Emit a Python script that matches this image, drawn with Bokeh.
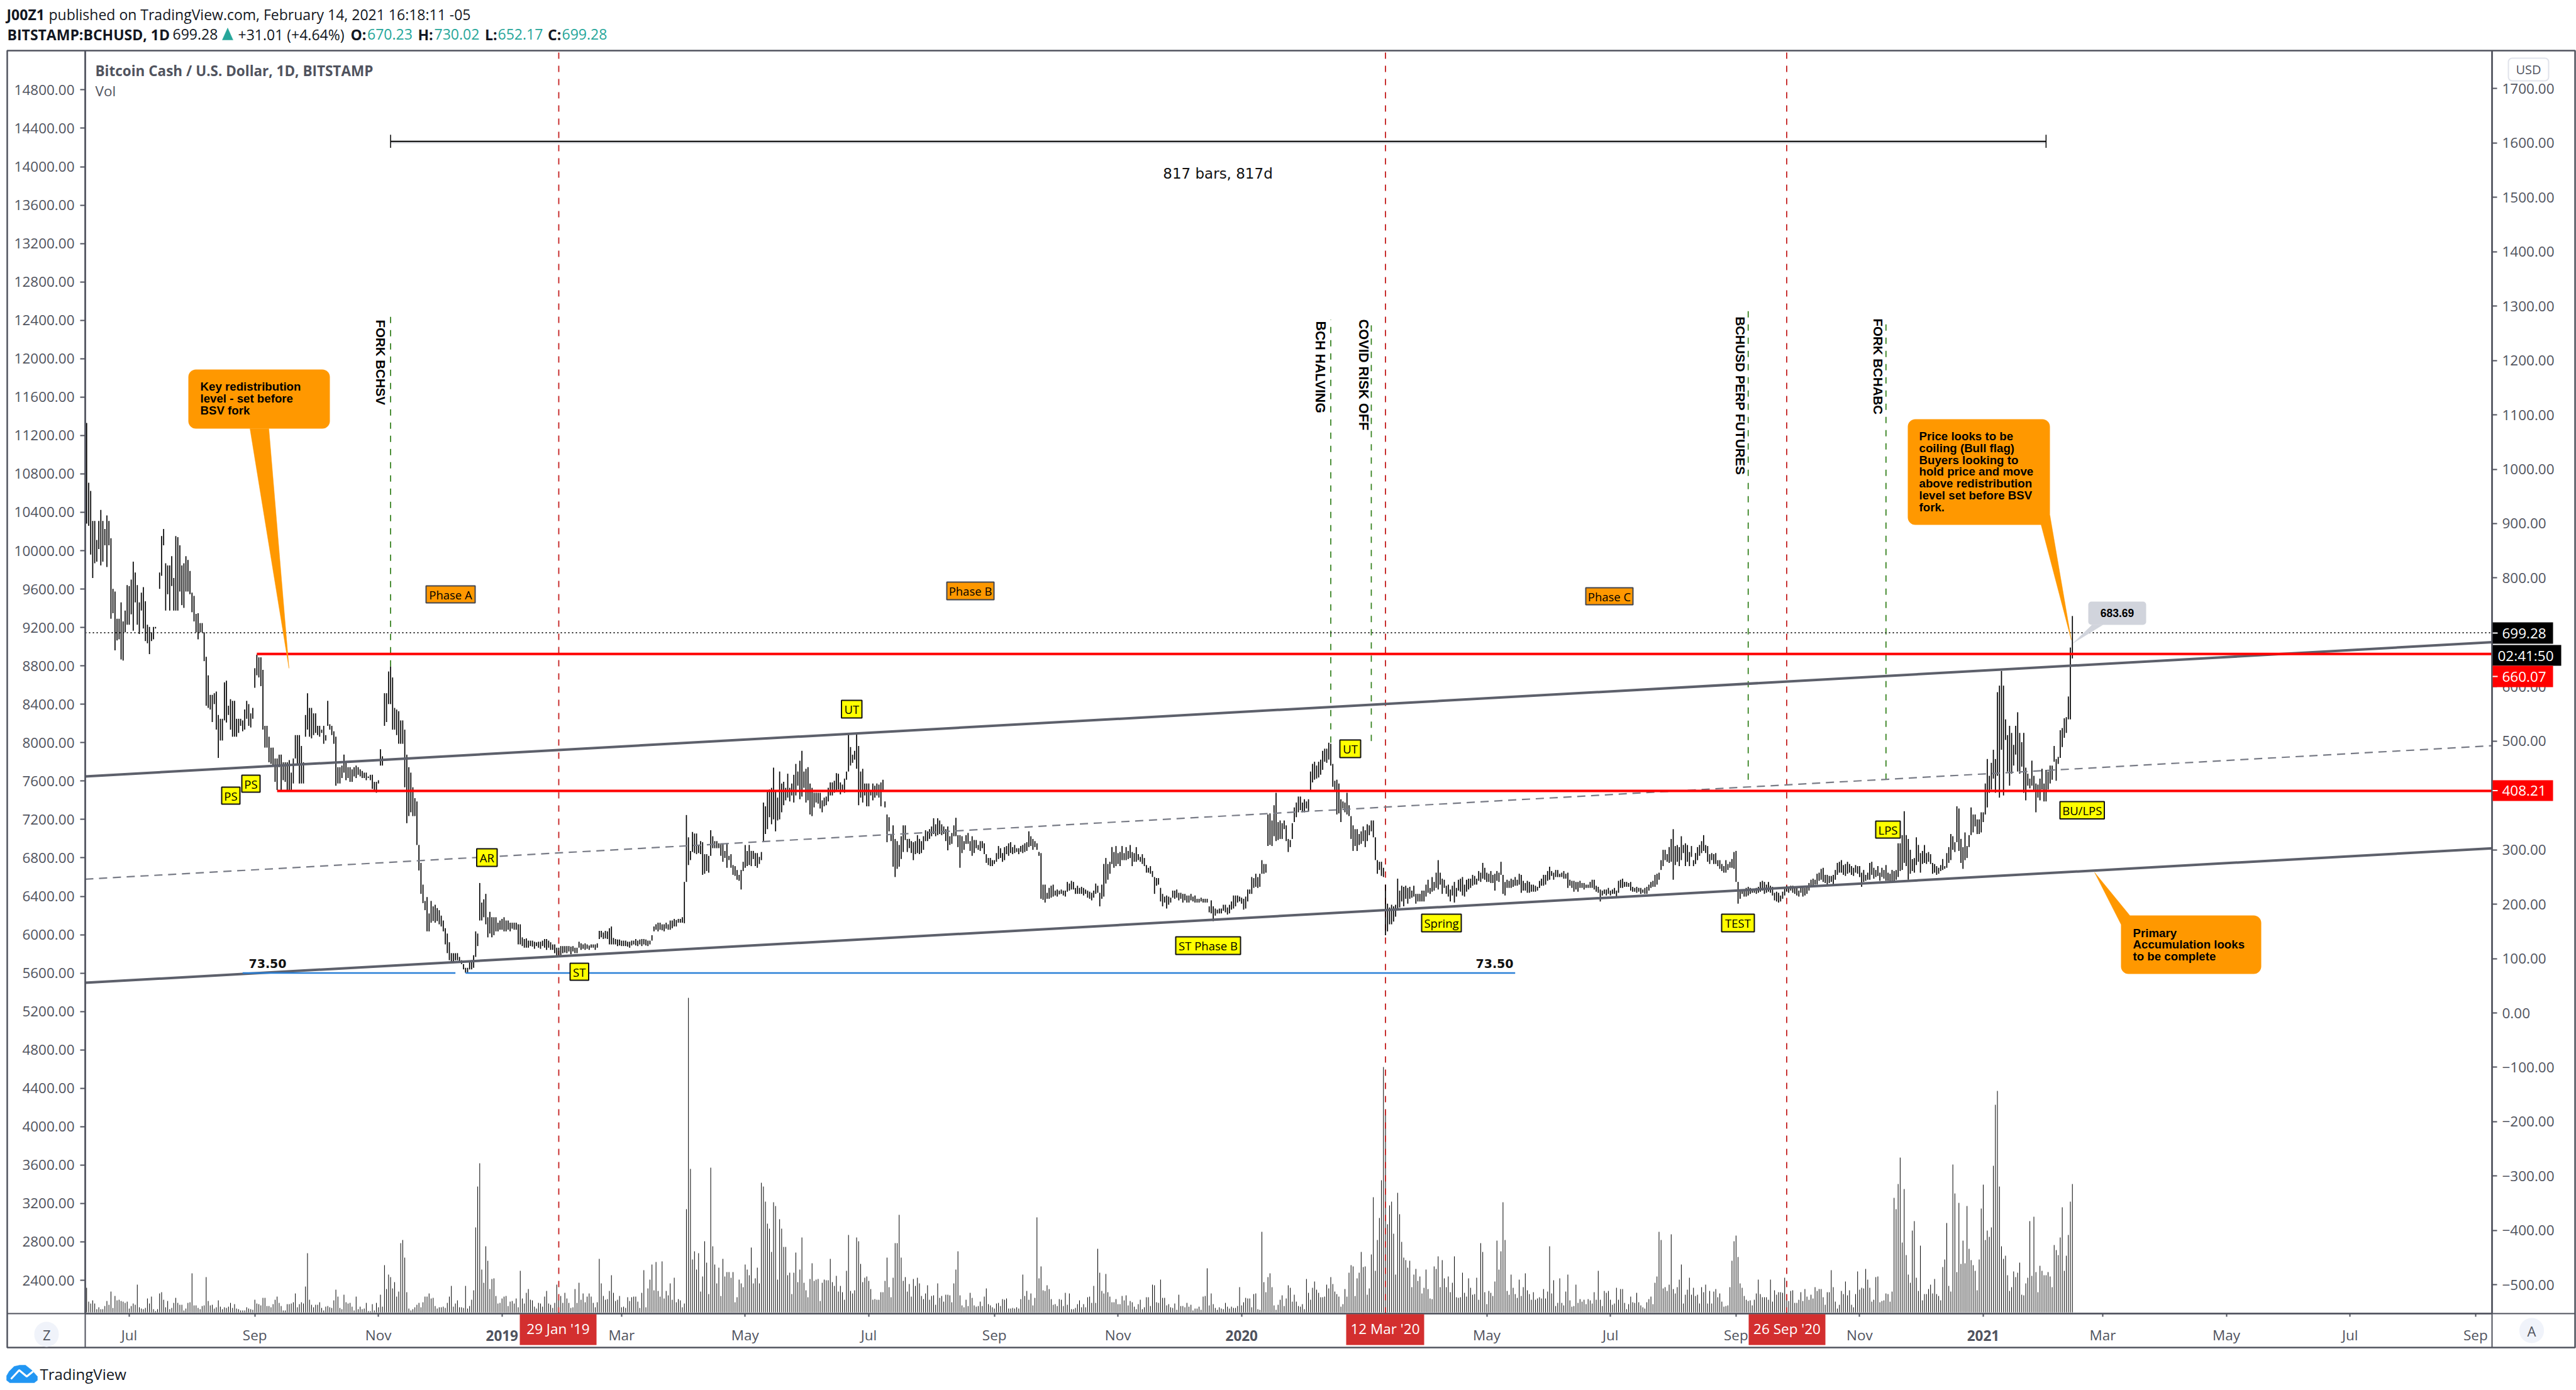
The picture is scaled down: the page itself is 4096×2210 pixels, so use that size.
import pandas as pd
from bokeh.embed import file_html
from bokeh.resources import INLINE
from bokeh.plotting import figure
from bokeh.models import (Range1d, LinearAxis, FixedTicker, Label, BoxAnnotation)

# ---------- price (USD) and volume, month by month ----------
high_2018_06 = [1085,975,960,905,905,870,905,925,905,890,915,905,873,780,775,725,725,755,720,740,787]
low_2018_06 = [900,896,843,800,827,830,853,823,830,860,820,860,725,735,667,685,687,650,648,700,714]
vol_2018_06 = [39,17,14,19,14,5,8,5,5,10,18,12,33,7,26,19,20,18,17,15,17]
high_2018_07 = [785,797,830,810,787,755,773,783,757,714,710,700,710,710,733,810,877,890,827,823,823,840,800,877,875,860,823,827,840,833,813]
low_2018_07 = [714,733,703,755,714,697,740,707,684,680,660,684,687,707,733,780,804,860,740,770,740,785,740,740,740,775,750,745,775,775,770]
vol_2018_07 = [6,10,14,12,44,8,6,5,7,22,14,25,5,2,5,30,32,20,8,18,5,7,15,23,15,12,12,3,6,15,16]
high_2018_08 = [773,767,734,735,717,717,700,655,621,585,585,588,591,548,541,541,608,611,565,577,574,574,541,541,541,538,558,574,568,551,561]
low_2018_08 = [737,720,700,687,700,700,647,565,561,558,535,568,521,469,501,501,538,534,548,521,508,508,508,515,528,518,521,541,528,525,541]
vol_2018_08 = [62,11,11,7,5,10,11,56,18,11,12,6,8,19,9,5,8,7,9,15,7,13,6,5,3,3,3,8,6,5,4]
high_2018_09 = [634,659,654,654,631,528,528,508,488,488,468,468,475,475,461,461,461,465,442,468,511,511,511,491,461,548,588,561,561,551]
low_2018_09 = [598,621,617,601,521,488,488,461,458,455,425,410,452,410,428,425,410,410,410,422,468,455,422,422,422,508,521,508,505,511]
vol_2018_09 = [20,14,13,11,23,23,10,10,8,13,20,25,15,10,3,3,13,13,14,16,30,8,13,16,14,41,94,20,12,8]
high_2018_10 = [551,528,528,521,528,511,574,531,528,518,508,452,452,455,475,461,452,452,448,452,455,452,448,445,442,442,435,438,438,425,425]
low_2018_10 = [515,511,508,515,495,501,528,521,511,495,418,422,422,432,442,428,432,425,425,435,432,438,435,432,432,428,432,428,412,409,405]
vol_2018_10 = [12,12,16,7,3,9,10,8,7,19,36,25,7,5,28,16,14,15,9,3,25,5,9,5,6,15,2,2,13,3,15]
high_2018_11 = [428,485,472,588,588,628,637,617,561,558,555,538,538,521,475,452,442,415,395,389,309,276,236,206,213,183,206,196,199,193]
low_2018_11 = [422,455,455,528,535,568,568,521,521,511,495,495,495,415,349,362,369,362,362,309,262,219,202,189,150,150,166,169,166,169]
vol_2018_11 = [8,28,9,75,37,60,56,38,48,25,33,110,115,87,32,6,3,5,8,12,15,8,16,25,25,30,22,23,10,6]
high_2018_12 = [189,179,170,156,146,130,110,110,110,110,103,97,90,83,83,93,97,106,150,146,239,203,209,219,176,186,176,176,176,166,170]
low_2018_12 = [163,159,150,126,110,97,93,93,97,97,93,90,80,74,74,80,80,83,103,123,170,170,176,163,139,146,139,143,150,150,153]
vol_2018_12 = [8,8,9,7,15,25,42,9,14,19,8,8,7,42,6,10,20,35,135,200,237,68,47,105,82,37,53,54,26,14,15]
high_2019_01 = [173,176,170,170,166,166,166,166,163,163,139,136,137,133,133,133,131,130,131,131,133,136,136,133,130,126,126,120,120,123,123]
low_2019_01 = [153,150,150,153,150,155,153,153,126,126,123,120,120,120,123,122,118,123,120,118,123,120,116,120,116,116,110,106,106,106,110]
vol_2019_01 = [22,25,26,10,17,18,14,22,8,66,22,14,31,37,20,19,9,6,15,14,9,25,34,14,12,7,15,44,21,26,15]
high_2019_02 = [123,123,123,122,123,120,120,131,128,126,128,126,124,126,126,126,128,151,151,148,151,150,156,159,138,136,135,135]
low_2019_02 = [111,110,113,108,113,110,110,120,116,118,116,118,116,120,120,116,120,136,139,136,137,136,126,126,126,126,123,124]
vol_2019_02 = [31,22,15,7,8,37,15,47,20,30,16,25,30,25,15,8,16,85,46,26,20,21,34,59,31,18,20,26]
high_2019_03 = [133,133,133,131,131,133,133,136,133,135,136,136,135,133,133,143,159,163,166,166,163,163,166,163,170,170,173,171,173,173,176]
low_2019_03 = [123,123,123,122,120,124,126,124,123,126,123,126,124,123,126,133,150,153,150,153,152,150,155,153,153,156,159,159,166,166,166]
vol_2019_03 = [8,9,7,24,18,24,25,25,17,7,31,67,8,38,52,76,35,80,34,25,81,22,34,27,46,20,55,16,21,19,8]
high_2019_04 = [241,364,323,298,333,330,330,309,316,314,292,292,289,336,325,316,316,312,312,312,298,312,289,292,272,270,263,254,263,278]
low_2019_04 = [165,241,272,281,296,294,292,294,292,254,256,261,258,289,303,303,303,303,289,278,285,267,281,267,254,252,245,243,227,261]
vol_2019_04 = [14,164,500,228,84,97,68,94,33,57,113,79,29,230,105,76,46,71,26,85,57,64,64,55,64,16,24,52,46,40]
high_2019_05 = [309,298,309,298,298,294,294,287,296,387,380,410,411,414,451,409,396,444,422,425,414,440,414,422,438,458,444,464,482,444,449]
low_2019_05 = [267,270,272,270,283,270,267,274,281,314,329,338,360,347,356,334,354,356,369,382,391,396,389,400,387,400,418,393,398,414,387]
vol_2019_05 = [76,68,59,103,46,54,71,46,206,200,176,141,133,96,175,169,52,148,133,104,104,59,63,29,63,95,48,68,119,47,35]
high_2019_06 = [452,422,414,405,405,405,405,391,396,398,414,424,424,427,441,440,424,420,431,444,515,489,475,482,513,491,444,449,422,422]
low_2019_06 = [391,365,362,378,387,385,376,369,380,382,389,400,400,405,409,411,402,409,405,429,444,455,460,466,449,382,396,387,400,380]
vol_2019_06 = [24,53,78,50,52,53,18,47,52,51,51,85,48,42,58,33,42,32,20,66,123,34,30,35,119,113,77,48,55,57]
high_2019_07 = [422,409,422,418,422,420,424,429,389,365,360,329,345,320,316,309,325,345,345,320,320,316,314,316,327,320,316,325,336,334,338]
low_2019_07 = [380,400,391,396,400,396,380,409,378,314,334,316,269,250,265,269,283,296,318,296,303,294,281,292,294,292,294,300,316,316,320]
vol_2019_07 = [50,37,20,21,20,20,32,32,50,87,40,24,55,110,110,155,87,50,56,33,45,25,53,42,55,46,26,21,30,43,20]
high_2019_08 = [343,358,347,358,354,347,343,338,343,325,331,345,359,327,327,325,316,327,331,316,325,318,318,309,316,316,312,292,285,285,281]
low_2019_08 = [325,329,325,327,329,327,329,316,299,309,311,325,325,305,267,294,300,311,311,298,289,294,303,300,298,303,292,276,272,270,270]
vol_2019_08 = [26,27,12,46,23,26,17,28,28,27,16,46,68,97,27,11,8,20,10,31,23,11,9,10,17,10,25,38,13,11,8]
high_2019_09 = [281,294,307,303,294,305,307,312,314,305,309,303,303,307,309,312,314,334,325,320,316,312,296,294,236,236,221,230,234,236]
low_2019_09 = [274,278,283,285,278,281,292,289,294,292,294,296,292,296,294,296,298,305,307,300,305,300,289,210,208,203,210,210,212,214]
vol_2019_09 = [6,14,15,10,21,20,22,6,6,7,6,8,6,21,60,26,34,20,30,11,23,151,54,73,35,34,43,37,21,12]
high_2019_10 = [225,227,225,227,225,225,241,238,243,241,230,234,230,232,230,227,225,223,221,225,238,234,221,236,274,285,274,278,305,296,307]
low_2019_10 = [216,214,218,219,216,214,223,225,227,227,219,219,219,219,216,219,212,210,207,212,219,221,196,210,214,238,245,256,274,267,270]
vol_2019_10 = [13,10,21,20,10,31,12,30,5,5,7,13,19,8,13,8,24,25,15,42,15,101,63,34,30,61,32,25,16,16,21]
high_2019_11 = [294,296,307,294,305,298,309,296,294,305,292,287,292,285,272,267,270,261,250,248,248,230,219,214,216,214,212,225,225,227]
low_2019_11 = [274,270,281,281,281,283,285,270,278,278,281,278,274,270,258,258,256,250,219,234,236,205,196,203,192,199,203,212,210,212]
vol_2019_11 = [13,13,26,19,27,11,18,16,9,5,13,20,5,8,24,24,10,44,43,16,15,52,23,23,11,13,8,7,14,4]
high_2019_12 = [221,221,219,219,216,216,219,214,216,210,210,212,210,210,210,196,207,196,192,190,192,192,199,199,194,199,205,216,216,216,214]
low_2019_12 = [207,210,203,207,203,203,207,205,203,203,203,205,203,203,203,185,183,169,179,183,183,183,188,185,181,183,190,192,196,203,205]
vol_2019_12 = [28,10,10,8,15,9,12,3,6,6,9,4,25,26,70,11,30,13,7,4,8,6,5,15,9,6,9,7,7,10,40]
high_2020_01 = [212,210,214,227,227,250,248,256,250,256,281,274,274,365,367,354,382,405,351,354,349,354,345,320,318,349,378,387,398,398,387]
low_2020_01 = [201,190,192,205,219,219,230,232,230,232,256,256,258,307,309,307,325,316,318,320,320,338,316,296,305,320,351,360,369,373,369]
vol_2020_01 = [11,16,23,22,22,8,29,30,5,4,128,48,32,56,62,40,11,4,12,20,27,10,22,43,39,17,28,17,10,9,13]
high_2020_02 = [393,389,393,444,458,462,455,462,466,482,486,486,497,495,458,427,429,422,393,389,387,405,382,362,345,338,338,329,334]
low_2020_02 = [369,376,371,409,424,429,431,433,438,447,462,460,466,455,416,409,365,367,351,376,369,365,362,320,298,307,298,309,311]
vol_2020_02 = [5,53,31,20,39,49,36,31,24,24,25,44,38,56,45,33,29,25,9,13,37,25,63,75,73,26,54,63,96]
high_2020_03 = [343,336,347,345,354,354,323,281,278,278,267,236,201,194,199,196,199,247,225,234,232,234,230,232,225,234,219,219,219,225,225]
low_2020_03 = [316,305,316,327,334,323,281,256,263,252,250,143,150,163,163,168,177,190,194,205,196,210,201,210,212,214,201,205,205,205,205]
vol_2020_03 = [72,73,28,38,92,183,66,115,150,210,390,320,140,170,176,125,60,190,156,112,87,83,71,82,40,60,69,50,57,30,39]
high_2020_04 = [236,245,230,250,241,258,281,258,247,245,234,236,227,234,241,230,245,247,250,236,245,247,247,254,252,247,261,258,276,267]
low_2020_04 = [214,221,219,223,225,230,227,236,219,230,219,214,205,216,203,214,225,223,216,214,223,227,230,234,236,236,243,241,247,245]
vol_2020_04 = [68,37,22,21,73,69,89,40,83,54,40,57,32,47,89,24,23,24,63,31,25,54,39,28,29,55,20,110,96,32]
high_2020_05 = [258,256,261,254,256,261,258,278,254,241,245,243,247,245,250,245,256,254,243,239,243,241,236,236,234,232,243,247,254,254,261]
low_2020_05 = [241,241,239,239,225,243,241,254,219,216,230,230,230,232,234,234,236,221,225,225,221,221,223,223,223,225,230,234,234,236,243]
vol_2020_05 = [13,34,31,26,49,114,68,97,175,115,34,28,60,39,29,23,52,26,40,62,35,29,20,32,20,22,24,22,37,22,33]
high_2020_06 = [269,261,258,263,263,256,258,261,256,258,245,243,243,241,241,243,239,239,236,236,241,245,245,234,232,227,225,227,227,230]
low_2020_06 = [245,252,245,250,250,250,250,247,247,230,234,230,223,227,223,230,230,227,230,230,230,230,227,223,221,205,216,219,216,219]
vol_2020_06 = [105,30,51,10,15,54,15,11,33,60,19,9,10,44,15,21,17,20,13,21,19,14,32,20,66,20,10,34,31,34]
high_2020_07 = [225,227,230,225,243,245,247,241,241,239,241,232,230,232,230,230,227,230,232,236,241,243,254,256,258,281,300,300,292,305,320]
low_2020_07 = [216,219,219,214,221,230,230,232,232,232,225,223,223,221,223,219,221,219,219,225,230,232,232,236,245,263,270,281,278,276,278]
vol_2020_07 = [20,12,14,39,20,37,37,15,5,13,25,16,15,31,16,11,8,6,16,21,25,13,47,57,128,115,38,40,34,44,124]
high_2020_08 = [338,307,309,305,325,309,312,309,296,307,281,294,305,309,316,327,309,307,292,294,292,294,281,281,274,270,281,274,278,283,296]
low_2020_08 = [245,272,278,270,281,294,270,278,270,287,270,274,281,289,294,298,294,278,274,281,274,274,270,265,261,258,258,263,267,267,265]
vol_2020_08 = [37,30,40,52,76,14,28,36,55,28,39,26,28,14,40,32,44,14,34,14,33,37,24,30,17,9,10,11,40,82,113]
high_2020_09 = [298,241,227,227,225,230,232,230,227,225,230,232,241,243,241,236,241,234,232,221,223,221,216,223,230,234,232,234,234,230]
low_2020_09 = [241,201,210,219,214,214,216,219,221,221,219,221,223,225,219,221,223,221,216,207,205,203,205,210,216,223,221,225,221,219]
vol_2020_09 = [122,88,46,39,26,20,18,19,11,20,30,52,29,24,24,24,20,52,17,35,28,32,32,31,55,23,18,34,35,15]
high_2020_10 = [230,225,232,230,230,234,239,245,247,245,256,258,265,267,254,254,252,252,254,263,276,278,281,272,274,278,274,270,267,272,270]
low_2020_10 = [216,214,221,214,216,219,225,232,232,236,236,243,245,241,239,236,239,241,236,245,254,258,258,254,252,256,258,254,252,258,256]
vol_2020_10 = [15,20,32,18,37,25,20,28,22,40,34,37,37,24,12,32,32,67,40,17,6,12,34,29,49,27,35,12,8,29,65]
high_2020_11 = [270,258,263,254,258,276,278,267,263,270,258,267,263,272,258,256,263,261,263,312,312,327,371,327,320,300,283,285,323,309]
low_2020_11 = [250,232,241,243,245,245,254,247,250,252,243,250,247,243,243,241,243,243,245,250,261,263,276,270,245,256,261,258,272,278]
vol_2020_11 = [36,39,38,69,52,39,17,20,56,57,16,18,19,30,29,17,33,182,164,204,246,111,196,91,60,47,130,145,55,34]
high_2020_12 = [294,298,309,294,296,292,276,274,270,267,272,283,270,294,305,329,325,314,380,376,320,305,332,307,327,378,365,365,356,356,369]
low_2020_12 = [258,274,276,274,278,274,256,258,254,256,261,263,265,267,276,281,300,296,314,298,276,265,281,285,305,327,332,343,329,329,332]
vol_2020_12 = [106,19,29,29,37,44,30,53,29,26,19,72,84,142,42,33,235,189,64,174,77,114,78,169,101,83,75,66,35,84,165]
high_2021_01 = [369,422,467,436,460,484,467,590,602,629,602,540,511,528,515,493,528,553,515,498,515,451,440,431,464,436,422,420,431,449,422]
low_2021_01 = [351,365,378,405,411,431,405,436,396,484,400,502,444,418,440,455,475,444,440,453,405,391,418,413,418,409,369,396,391,411,389]
vol_2021_01 = [203,115,130,120,135,233,330,352,200,105,85,90,59,34,40,65,56,63,79,28,27,46,55,145,58,152,64,32,74,66,59]
high_2021_02 = [447,444,455,455,491,467,471,520,524,542,544,582,672,730]
low_2021_02 = [389,411,422,429,462,427,458,469,489,506,515,540,540,652]
vol_2021_02 = [59,64,57,40,107,99,91,119,167,66,90,123,176,204]

month_series = [
    ("2018-06-10", high_2018_06, low_2018_06, vol_2018_06), ("2018-07-01", high_2018_07, low_2018_07, vol_2018_07),
    ("2018-08-01", high_2018_08, low_2018_08, vol_2018_08), ("2018-09-01", high_2018_09, low_2018_09, vol_2018_09),
    ("2018-10-01", high_2018_10, low_2018_10, vol_2018_10), ("2018-11-01", high_2018_11, low_2018_11, vol_2018_11),
    ("2018-12-01", high_2018_12, low_2018_12, vol_2018_12), ("2019-01-01", high_2019_01, low_2019_01, vol_2019_01),
    ("2019-02-01", high_2019_02, low_2019_02, vol_2019_02), ("2019-03-01", high_2019_03, low_2019_03, vol_2019_03),
    ("2019-04-01", high_2019_04, low_2019_04, vol_2019_04), ("2019-05-01", high_2019_05, low_2019_05, vol_2019_05),
    ("2019-06-01", high_2019_06, low_2019_06, vol_2019_06), ("2019-07-01", high_2019_07, low_2019_07, vol_2019_07),
    ("2019-08-01", high_2019_08, low_2019_08, vol_2019_08), ("2019-09-01", high_2019_09, low_2019_09, vol_2019_09),
    ("2019-10-01", high_2019_10, low_2019_10, vol_2019_10), ("2019-11-01", high_2019_11, low_2019_11, vol_2019_11),
    ("2019-12-01", high_2019_12, low_2019_12, vol_2019_12), ("2020-01-01", high_2020_01, low_2020_01, vol_2020_01),
    ("2020-02-01", high_2020_02, low_2020_02, vol_2020_02), ("2020-03-01", high_2020_03, low_2020_03, vol_2020_03),
    ("2020-04-01", high_2020_04, low_2020_04, vol_2020_04), ("2020-05-01", high_2020_05, low_2020_05, vol_2020_05),
    ("2020-06-01", high_2020_06, low_2020_06, vol_2020_06), ("2020-07-01", high_2020_07, low_2020_07, vol_2020_07),
    ("2020-08-01", high_2020_08, low_2020_08, vol_2020_08), ("2020-09-01", high_2020_09, low_2020_09, vol_2020_09),
    ("2020-10-01", high_2020_10, low_2020_10, vol_2020_10), ("2020-11-01", high_2020_11, low_2020_11, vol_2020_11),
    ("2020-12-01", high_2020_12, low_2020_12, vol_2020_12), ("2021-01-01", high_2021_01, low_2021_01, vol_2021_01),
    ("2021-02-01", high_2021_02, low_2021_02, vol_2021_02),
]

left_ticks = [2400, 2800, 3200, 3600, 4000, 4400, 4800, 5200, 5600, 6000, 6400, 6800, 7200, 7600, 8000, 8400, 8800,
              9200, 9600, 10000, 10400, 10800, 11200, 11600, 12000, 12400, 12800, 13200, 13600, 14000, 14400, 14800]
right_ticks = [-500, -400, -300, -200, -100, 0, 100, 200, 300, 400, 500, 600, 700, 800, 900, 1000, 1100, 1200, 1300, 1400, 1500, 1600, 1700]
month_ticks = [("2018-07-01", "Jul"), ("2018-09-01", "Sep"), ("2018-11-01", "Nov"), ("2019-01-01", ""), ("2019-03-01", "Mar"),
               ("2019-05-01", "May"), ("2019-07-01", "Jul"), ("2019-09-01", "Sep"), ("2019-11-01", "Nov"), ("2020-01-01", ""),
               ("2020-03-01", "Mar"), ("2020-05-01", "May"), ("2020-07-01", "Jul"), ("2020-09-01", "Sep"), ("2020-11-01", "Nov"),
               ("2021-01-01", ""), ("2021-03-01", "Mar"), ("2021-05-01", "May"), ("2021-07-01", "Jul"), ("2021-09-01", "Sep")]
year_ticks = [("2019-01-01", "2019"), ("2020-01-01", "2020"), ("2021-01-01", "2021")]

channel_dates = ["2018-06-09 07:00", "2021-09-10 02:00"]
channel_upper = [435, 682]
channel_middle = [246, 491.6]
channel_lower = [55.5, 303]
last_price = 699.28
level_high = 660.07
level_low = 408.21
level_high_start = "2018-09-02"
level_low_start = "2018-09-12"
blue_level = 73.5
blue_spans = [("2018-08-26", "2018-12-09"), ("2018-12-14", "2020-05-15")]
red_events = ["2019-01-29", "2020-03-12", "2020-09-26"]
green_events = [("2018-11-07", 1284, 637), ("2020-02-14", 1275, 497), ("2020-03-05", 1275, 500),
                ("2020-09-07", 1291, 429), ("2020-11-14", 1276, 429)]
ruler_dates = ["2018-11-07", "2021-02-01"]
ruler_price = 1603

# ---------- main figure: data, axes ----------
def ms(d):
    return (pd.Timestamp(d) - pd.Timestamp(0)) / pd.Timedelta(milliseconds=1)

FONT = "Open Sans"
AXIS = "#50535e"
ORANGE = "#ff9800"
W, H = 4096, 2200
FRAME_L, FRAME_R, FRAME_T, FRAME_B = 135, 3962, 80, 2088
X0 = ms("2018-07-01") - 21.7 * 864e5
X1 = ms("2018-07-01") + 1166.1 * 864e5

p = figure(width=W, height=H, output_backend="svg", toolbar_location=None,
           x_axis_type="datetime", y_axis_location="right",
           x_range=Range1d(X0, X1), y_range=Range1d(-552.9, 1769.8),
           min_border_left=FRAME_L, min_border_right=W - FRAME_R, min_border_top=FRAME_T, min_border_bottom=H - FRAME_B,
           background_fill_color="white", border_fill_color="white", outline_line_color=None)
p.grid.visible = False
p.extra_y_ranges = {"left": Range1d(2053, 15208.8), "volume": Range1d(-2, 2006)}

def style_axis(ax):
    ax.axis_line_color = AXIS
    ax.axis_line_width = 2.5
    ax.major_tick_line_color = AXIS
    ax.major_tick_line_width = 2
    ax.major_tick_out = 8
    ax.major_tick_in = 0
    ax.minor_tick_out = 0
    ax.minor_tick_in = 0
    ax.major_label_text_color = AXIS
    ax.major_label_text_font = FONT
    ax.major_label_text_font_size = "22.5px"

ax_r = p.yaxis[0]
style_axis(ax_r)
ax_r.ticker = FixedTicker(ticks=right_ticks)
ax_r.major_label_overrides = {t: f"{t:.2f}".replace("-", "\u2212") for t in right_ticks}
ax_r.major_label_standoff = 8

ax_l = LinearAxis(y_range_name="left", ticker=FixedTicker(ticks=left_ticks))
style_axis(ax_l)
ax_l.major_label_overrides = {t: f"{t:.2f}" for t in left_ticks}
ax_l.major_label_standoff = 9
p.add_layout(ax_l, "left")

ax_b = p.xaxis[0]
style_axis(ax_b)
ax_b.major_tick_out = 5
ax_b.ticker = FixedTicker(ticks=[ms(d) for d, _ in month_ticks])
ax_b.major_label_overrides = {ms(d): t for d, t in month_ticks}
ax_b.major_label_standoff = 13

for start, hi, lo, vo in month_series:
    xs = [ms(d) for d in pd.date_range(start, periods=len(hi))]
    p.segment(x0=xs, x1=xs, y0=[0] * len(vo), y1=vo, y_range_name="volume", line_color="#000000", line_width=1.0)

for d in red_events:
    p.segment(x0=[ms(d)], x1=[ms(d)], y0=[-552.9], y1=[1769.8], line_color="#c62828", line_width=1.9, line_dash="10 11")
for d, top, bot in green_events:
    p.segment(x0=[ms(d)], x1=[ms(d)], y0=[bot], y1=[top], line_color="#2e7d16", line_width=1.7, line_dash="10 11")

for start, hi, lo, vo in month_series:
    xs = [ms(d) for d in pd.date_range(start, periods=len(hi))]
    p.segment(x0=xs, x1=xs, y0=lo, y1=hi, line_color="#000000", line_width=1.7)

cx = [ms(d) for d in channel_dates]
p.line(x=[X0, X1], y=[last_price, last_price], line_color="#222222", line_width=2, line_dash="2 4")
p.line(x=cx, y=channel_middle, line_color="#787b86", line_width=2.2, line_dash="13 9")
p.line(x=cx, y=channel_upper, line_color="#5d606b", line_width=4)
p.line(x=cx, y=channel_lower, line_color="#5d606b", line_width=4)
p.line(x=[ms(level_high_start), X1], y=[level_high, level_high], line_color="#ff0000", line_width=4)
p.line(x=[ms(level_low_start), X1], y=[level_low, level_low], line_color="#ff0000", line_width=4)
for a, b in blue_spans:
    p.line(x=[ms(a), ms(b)], y=[blue_level, blue_level], line_color="#2a7fd6", line_width=2.5)

rx = [ms(d) for d in ruler_dates]
p.line(x=rx, y=[ruler_price - 2.6, ruler_price - 2.6], line_color="#d5d7dc", line_width=2)
p.line(x=rx, y=[ruler_price, ruler_price], line_color="#000000", line_width=2)
for rd in rx:
    p.segment(x0=[rd], x1=[rd], y0=[ruler_price - 12], y1=[ruler_price + 12], line_color="#000000", line_width=1.5)

# ---------- overlay figure: page furniture in page pixels, over axes and frame ----------
ov = figure(width=W, height=H, output_backend="svg", toolbar_location=None,
            x_axis_location=None, y_axis_location=None,
            x_range=Range1d(0, W), y_range=Range1d(H, 0), min_border=0,
            background_fill_alpha=0, border_fill_alpha=0, outline_line_color=None,
            styles={"position": "absolute", "left": "0px", "top": "0px"})
ov.grid.visible = False

def x_px(d):
    return FRAME_L + (ms(d) - X0) / (X1 - X0) * (FRAME_R - FRAME_L)

def box(l, r, t, b, fill="white", line=None, lw=1, radius=0):
    ov.add_layout(BoxAnnotation(left=l, right=r, top=t, bottom=b, fill_color=fill, fill_alpha=1.0 if fill else 0.0,
                                line_color=line, line_alpha=1.0 if line else 0.0, line_width=lw, border_radius=radius))

def text(s, x, y, size=22.5, color=AXIS, font=FONT, style="normal", align="left", base="middle", angle=0.0):
    ov.add_layout(Label(x=x, y=y, text=s, text_font=font, text_font_size=f"{size}px", text_color=color,
                        text_font_style=style, text_align=align, text_baseline=base, angle=angle, angle_units="rad"))

def tail(xs, ys, color=ORANGE):
    ov.patch(x=xs, y=ys, fill_color=color, line_color=color, line_width=0.5)

# frame
box(11, 4094, 80, 2142, fill=None, line=AXIS, lw=2.5)
box(134, 136, 80, 2142, fill=AXIS)
box(FRAME_R - 1, FRAME_R + 1, 80, 2142, fill=AXIS)
box(11, 4094, 2087, 2089, fill=AXIS)

# header
text("J00Z1", 10, 22, 23, "#131722", style="bold")
text("published on TradingView.com, February 14, 2021 16:18:11 -05", 77, 22, 23, "#131722")
text("BITSTAMP:BCHUSD, 1D", 11, 54, 23, "#131722", style="bold")
text("699.28", 274, 54, 23, "#131722")
tail([353, 361.5, 370], [63, 44, 63], "#26a69a")
text("+31.01 (+4.64%)", 378, 54, 23, "#131722")
for lab, lx, val, vx in [("O:", 557, "670.23", 583.5), ("H:", 664, "730.02", 690), ("L:", 770.4, "652.17", 791), ("C:", 870.5, "699.28", 893)]:
    text(lab, lx, 54, 23, "#131722", style="bold")
    text(val, vx, 54, 23, "#26a69a")

text("Bitcoin Cash / U.S. Dollar, 1D, BITSTAMP", 151, 112, 22.5, AXIS, style="bold")
text("Vol", 151, 144, 22.5, AXIS)
text("817 bars, 817d", 1936, 275, 23, "#111111", font="DejaVu Sans", align="center")

# vertical event labels
for s, x, y, sz in [("FORK BCHSV", 605, 508, 20.5), ("BCH HALVING", 2099, 510, 21.3), ("COVID RISK OFF", 2168, 507, 21.8),
                    ("BCHUSD PERP FUTURES", 2767, 503, 20.5), ("FORK BCHABC", 2986, 506, 20.5)]:
    text(s, x, y, sz, "#000000", font="Liberation Sans", style="bold", angle=-1.5708)

# orange callouts
tail([397, 427, 459], [681, 681, 1062])
box(299, 524, 587, 681, fill=ORANGE, radius=12)
for i, s in enumerate(["Key redistribution", "level - set before", "BSV fork"]):
    text(s, 318, 614 + 19 * i, 18.7, "#000000", font="Liberation Sans", style="bold")

tail([3245, 3259, 3293], [834, 819, 1017])
box(3033, 3259, 666, 834, fill=ORANGE, radius=12)
for i, s in enumerate(["Price looks to be", "coiling (Bull flag)", "Buyers looking to", "hold price and move",
                       "above redistribution", "level set before BSV", "fork."]):
    text(s, 3051, 693 + 18.75 * i, 18.7, "#000000", font="Liberation Sans", style="bold")

tail([3330, 3372, 3386], [1386.6, 1469, 1455])
box(3372, 3595, 1455, 1548, fill=ORANGE, radius=12)
for i, s in enumerate(["Primary", "Accumulation looks", "to be complete"]):
    text(s, 3391, 1482.6 + 18.7 * i, 18.7, "#000000", font="Liberation Sans", style="bold")

# price note
tail([3326, 3343, 3296], [993, 993, 1022], color="#d1d4dc")
box(3320, 3412, 956, 993, fill="#d1d4dc", radius=5)
text("683.69", 3366, 974, 17.5, "#000000", font="Liberation Sans", style="bold", align="center")

# phase and wyckoff tags
for s, l, r, t, b in [("Phase A", 677, 755, 931, 958), ("Phase B", 1505, 1580, 925, 953), ("Phase C", 2521, 2596, 934, 961)]:
    box(l, r, t, b, fill=ORANGE, line="#434651", lw=2)
    text(s, (l + r) / 2, (t + b) / 2, 18.5, "#000000", align="center")
for s, l, r, t, b in [("PS", 352, 381, 1251, 1278), ("PS", 384, 413, 1232, 1259), ("AR", 757.5, 790, 1349, 1377),
                      ("ST", 906, 935.5, 1531, 1558), ("UT", 1337.5, 1370, 1113, 1141), ("ST Phase B", 1869, 1972, 1489, 1517),
                      ("UT", 2130, 2163, 1176, 1204), ("Spring", 2260, 2323, 1453, 1481), ("TEST", 2737, 2789, 1453, 1481),
                      ("LPS", 2982, 3021, 1305, 1332), ("BU/LPS", 3275, 3345.5, 1274, 1301.5)]:
    box(l, r, t, b, fill="#ffff00", line="#111111", lw=2)
    text(s, (l + r) / 2, (t + b) / 2, 18.5, "#000000", align="center")

text("73.50", 425, 1531, 19, "#111111", font="DejaVu Sans", style="bold", align="center")
text("73.50", 2376, 1531, 19, "#111111", font="DejaVu Sans", style="bold", align="center")

# right-hand price flags
FL = FRAME_R + 1
for s, r, t, b, fill in [("699.28", 4059, 989, 1023, "#000000"), ("02:41:50", 4072, 1025, 1058, "#000000"),
                         ("660.07", 4059, 1058, 1092, "#ff0000"), ("408.21", 4059, 1240, 1273, "#ff0000")]:
    box(FL, r, t, b, fill=fill)
    text(s, FL + 15 if r == 4059 else FL + 8, (t + b) / 2, 22.5, "#ffffff")
    if r == 4059:
        box(FL, FL + 8, (t + b) / 2 - 1, (t + b) / 2 + 1, fill="#ffffff")
text("USD", 4020, 110, 20, AXIS, align="center")
box(3988, 4052, 92, 128, fill=None, line="#e0e3eb", lw=2, radius=6)

# time-axis flags
for s, l, r in [("29 Jan '19", 826, 948), ("12 Mar '20", 2140, 2264), ("26 Sep '20", 2780, 2902)]:
    box(l, r, 2089, 2138, fill="#d32f2f")
    text(s, (l + r) / 2, 2112, 22.5, "#ffffff", align="center")
for d, s in year_ticks:
    text(s, x_px(d), 2123, 22.5, AXIS, style="bold", align="center")

# corner buttons and logo
box(54, 93, 2101, 2141, fill="#f0f3fa", radius=20)
text("Z", 73.7, 2121, 22, AXIS, align="center")
box(4005.5, 4044.5, 2095, 2135, fill="#f0f3fa", radius=20)
text("A", 4025, 2115, 22, AXIS, align="center")
tail([10, 14, 22, 31, 40, 50, 59, 59, 54, 15, 10], [2187, 2180, 2172, 2170, 2170, 2178, 2188, 2194, 2198, 2198, 2194], "#2196f3")
ov.line(x=[17, 30, 42, 52], y=[2192, 2178, 2188, 2180], line_color="#ffffff", line_width=3)
text("TradingView", 63, 2184, 24, "#131722")

open("out.html", "w").write(file_html([p, ov], INLINE))
